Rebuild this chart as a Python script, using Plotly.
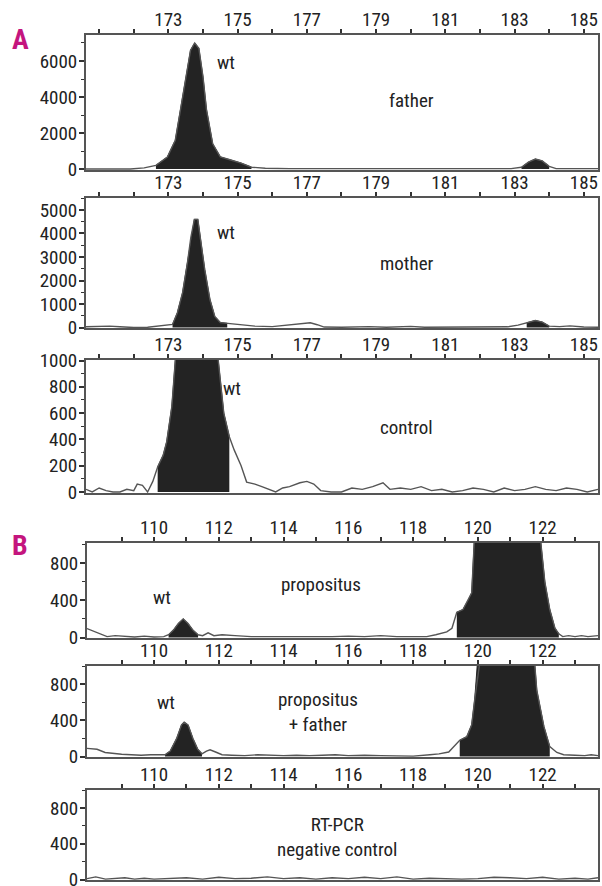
import plotly.graph_objects as go

W, H = 602, 886
FONT = "Liberation Sans Narrow, Arial Narrow, Roboto Condensed, Roboto, sans-serif"

# ---------------- data ----------------
a_ticks = list(range(171, 186))
a_ticklabels = [str(v) if (v % 2 == 1 and v >= 173) else "" for v in a_ticks]
b_ticks = list(range(109, 124))
b_ticklabels = [str(v) if v % 2 == 0 else "" for v in b_ticks]

# father
a1_x = [170.62, 171.9, 172.3, 172.64, 172.97, 173.2, 173.35, 173.5, 173.64, 173.76, 173.88, 174.0, 174.1, 174.28,
        174.5, 174.8, 175.1, 175.4, 175.8, 176.5, 178.0, 179.0, 180.0, 181.0, 182.0, 182.9, 183.2, 183.4, 183.6,
        183.8, 184.0, 184.2, 184.5, 185.41]
a1_y = [0, 0, 60, 200, 670, 1600, 3300, 5100, 6600, 7000, 6700, 5100, 3300, 1400,
        670, 500, 330, 100, 40, 20, 20, 20, 20, 20, 20, 20, 100, 380, 550,
        450, 150, 20, 20, 20]
a1_fill = [(172.6, 175.45), (183.1, 184.1)]

# mother
a2_x = [170.62, 171.0, 171.3, 171.6, 172.0, 172.4, 172.7, 173.0, 173.12, 173.26, 173.41, 173.55, 173.65, 173.75,
        173.85, 173.93, 174.05, 174.2, 174.34, 174.5, 174.7, 175.0, 175.5, 176.0, 176.4, 176.8, 177.1, 177.3,
        177.5, 178.0, 178.8, 179.3, 180.0, 180.4, 181.0, 182.0, 182.8, 183.1, 183.35, 183.6, 183.8, 184.0,
        184.3, 184.6, 185.0, 185.41]
a2_y = [30, 40, 60, 30, 0, 10, 60, 80, 130, 630, 1480, 2750, 3850, 4600,
        4600, 3730, 2460, 1190, 470, 210, 180, 120, 60, 40, 100, 180, 200, 120,
        20, 10, 40, 10, 50, 10, 20, 20, 30, 100, 200, 300, 230, 60,
        40, 70, 20, 10]
a2_fill = [(173.1, 174.72), (183.3, 184.05)]

# control
a3_x = [170.62, 170.8, 171.0, 171.2, 171.4, 171.6, 171.8, 172.0, 172.1, 172.25, 172.4, 172.55, 172.69, 172.85,
        172.95, 173.1, 173.2, 173.35, 173.55, 173.76, 174.0, 174.2, 174.44, 174.6, 174.76, 174.9, 175.1, 175.26,
        175.5, 175.7, 175.9, 176.1, 176.3, 176.5, 176.8, 177.0, 177.2, 177.4, 177.7, 178.0, 178.3, 178.6,
        178.9, 179.2, 179.4, 179.7, 180.0, 180.3, 180.6, 180.9, 181.2, 181.5, 181.8, 182.1, 182.4, 182.7,
        183.0, 183.3, 183.6, 183.9, 184.2, 184.5, 184.8, 185.1, 185.41]
a3_y = [20, 0, 30, 10, 0, 0, 20, 10, 60, 50, 0, 80, 190, 280,
        380, 650, 1000, 1900, 3500, 4200, 3300, 1800, 1000, 600, 420, 320, 200, 75,
        60, 40, 20, 0, 30, 40, 70, 80, 60, 10, 0, 0, 30, 20,
        40, 70, 20, 30, 20, 40, 10, 20, 0, 10, 30, 20, 0, 30,
        10, 20, 40, 20, 10, 30, 20, 0, 20]
a3_fill = [(172.68, 174.77)]

# propositus
b1_x = [107.93, 108.24, 108.55, 108.8, 109.1, 109.4, 109.7, 110.0, 110.3, 110.45, 110.6, 110.75, 110.9, 111.05,
        111.2, 111.36, 111.5, 111.67, 111.85, 112.1, 112.5, 113.0, 113.5, 114.0, 114.5, 115.0, 115.5, 116.0,
        116.5, 117.0, 117.5, 118.0, 118.42, 118.7, 119.04, 119.2, 119.35, 119.54, 119.7, 119.81, 119.9, 120.2,
        120.6, 121.0, 121.4, 121.8, 121.94, 122.07, 122.22, 122.38, 122.5, 122.62, 122.8, 123.0, 123.2, 123.4,
        123.71]
b1_y = [96, 53, 10, 20, 10, 5, 15, 5, 10, 30, 80, 150, 200, 150,
        80, 30, 20, 50, 20, 30, 20, 10, 10, 10, 5, 10, 10, 15,
        10, 20, 10, 10, 10, 30, 60, 100, 270, 300, 400, 480, 1100, 2500,
        3000, 3100, 2800, 1500, 1000, 590, 300, 100, 40, 10, 20, 10, 20, 10,
        20]
b1_fill = [(110.43, 111.4), (119.34, 122.52)]

# propositus + father
b2_x = [107.93, 108.24, 108.49, 108.7, 109.0, 109.3, 109.6, 109.9, 110.15, 110.34, 110.5, 110.7, 110.85, 110.93,
        111.05, 111.2, 111.35, 111.48, 111.62, 111.73, 111.9, 112.1, 112.4, 112.8, 113.2, 113.6, 114.0, 114.4,
        114.8, 115.2, 115.6, 116.0, 116.5, 117.0, 117.5, 118.0, 118.52, 118.8, 119.1, 119.3, 119.44, 119.66,
        119.81, 119.9, 120.0, 120.3, 120.8, 121.2, 121.5, 121.76, 121.82, 122.04, 122.22, 122.44, 122.65, 123.0,
        123.3, 123.5, 123.71]
b2_y = [90, 80, 45, 35, 25, 20, 15, 20, 20, 20, 60, 200, 350, 380,
        350, 200, 80, 30, 60, 75, 50, 20, 15, 10, 20, 15, 10, 15,
        10, 15, 20, 10, 15, 10, 5, 5, 20, 30, 50, 120, 180, 220,
        350, 620, 1100, 2500, 3000, 2800, 1500, 1000, 730, 330, 110, 45, 20, 15,
        10, 20, 10]
b2_fill = [(110.33, 111.5), (119.43, 122.23)]

# RT-PCR negative control
b3_x = [107.93, 108.2, 108.5, 108.8, 109.1, 109.4, 109.7, 110.0, 110.5, 111.0, 111.5, 112.0, 112.5, 113.0,
        113.5, 114.0, 114.5, 115.0, 115.5, 116.0, 116.5, 117.0, 117.5, 118.0, 118.5, 119.0, 119.5, 120.0,
        120.5, 121.0, 121.5, 122.0, 122.5, 123.0, 123.4, 123.71]
b3_y = [10, 30, 5, 15, 20, 5, 15, 5, 10, 20, 5, 25, 10, 15,
        30, 10, 20, 5, 20, 10, 25, 10, 30, 5, 15, 10, 5, 10,
        25, 20, 10, 25, 5, 15, 5, 20]
b3_fill = []

panels = [
    (a1_x, a1_y, a1_fill, [-55, 7444], [0, 2000, 4000, 6000], 1000, 35, 170, 86, [170.62, 185.41], a_ticks, a_ticklabels),
    (a2_x, a2_y, a2_fill, [-20, 5508], [0, 1000, 2000, 3000, 4000, 5000], 500, 198, 328, 86, [170.62, 185.41], a_ticks, a_ticklabels),
    (a3_x, a3_y, a3_fill, [-8, 1004], [0, 200, 400, 600, 800, 1000], 100, 360, 493, 86, [170.62, 185.41], a_ticks, a_ticklabels),
    (b1_x, b1_y, b1_fill, [-5, 1013], [0, 400, 800], 200, 543, 638, 87, [107.93, 123.71], b_ticks, b_ticklabels),
    (b2_x, b2_y, b2_fill, [-5, 1000], [0, 400, 800], 200, 666, 757, 87, [107.93, 123.71], b_ticks, b_ticklabels),
    (b3_x, b3_y, b3_fill, [-5, 1000], [0, 400, 800], 200, 790, 880, 87, [107.93, 123.71], b_ticks, b_ticklabels),
]

labels = [
    [("wt", 174.66, 5940), ("father", 180.03, 3830)],
    [("wt", 174.66, 4025), ("mother", 179.88, 2710)],
    [("wt", 174.85, 790), ("control", 179.88, 487)],
    [("wt", 110.25, 427), ("propositus", 115.15, 565)],
    [("wt", 110.37, 592), ("propositus<br>+ father", 115.06, 493)],
    [("RT-PCR<br>negative control", 115.65, 478)],
]

# ---------------- figure ----------------
fig = go.Figure()
layout = dict(
    width=W, height=H, margin=dict(l=0, r=0, t=0, b=0, autoexpand=False),
    paper_bgcolor="white", plot_bgcolor="white", showlegend=False,
    font=dict(family=FONT, size=19, color="#222"),
)
annotations = []
AX = "#555"

for i, (xs, ys, fills, yr, yt, mdt, top, bot, left, xr, tv, tt) in enumerate(panels):
    assert len(xs) == len(ys), i
    n = "" if i == 0 else str(i + 1)
    xa, ya = "x" + n, "y" + n
    for lo, hi in fills:
        fx = [x for x in xs if lo <= x <= hi]
        fy = [y for x, y in zip(xs, ys) if lo <= x <= hi]
        fig.add_trace(go.Scatter(x=fx, y=fy, mode="lines", fill="tozeroy",
                                 fillcolor="#232323", line=dict(color="#232323", width=1),
                                 xaxis=xa, yaxis=ya, hoverinfo="skip"))
    fig.add_trace(go.Scatter(x=xs, y=ys, mode="lines", line=dict(color="#555", width=1.4),
                             xaxis=xa, yaxis=ya))
    layout["xaxis" + n] = dict(
        domain=[left / W, 598 / W], range=xr, anchor=ya, side="top", automargin=False,
        tickmode="array", tickvals=tv, ticktext=tt, ticks="outside", ticklen=4,
        tickwidth=1.5, tickcolor="#333", showline=True, linecolor=AX, linewidth=2,
        mirror=True, showgrid=False, zeroline=False, fixedrange=True,
        ticklabelstandoff=-5, ticklabeloverflow="allow",
        tickfont=dict(family=FONT, size=19, color="#222"),
    )
    layout["yaxis" + n] = dict(
        domain=[1 - bot / H, 1 - top / H], range=yr, anchor=xa, automargin=False,
        tickmode="array", tickvals=yt, ticks="outside", ticklen=5, tickwidth=1.5,
        tickcolor="#333", showline=True, linecolor=AX, linewidth=2, mirror=True,
        showgrid=False, zeroline=False, fixedrange=True,
        ticklabelstandoff=-2, ticklabeloverflow="allow",
        minor=dict(dtick=mdt, ticks="outside", ticklen=3, tickcolor="#333", tickwidth=1.2, showgrid=False),
        tickfont=dict(family=FONT, size=19, color="#222"),
    )
    for txt, x, y in labels[i]:
        annotations.append(dict(text=txt, x=x, y=y, xref=xa, yref=ya, showarrow=False,
                                font=dict(family=FONT, size=19, color="#222"), align="center"))

for letter, py in (("A", 40), ("B", 545)):
    annotations.append(dict(text="<b>" + letter + "</b>", x=20 / W, y=1 - py / H, xref="paper", yref="paper",
                            xanchor="center", yanchor="middle", showarrow=False,
                            font=dict(family=FONT, size=28, color="#c4157e")))
layout["annotations"] = annotations
fig.update_layout(**layout)
fig.write_html("out.html", config={"displayModeBar": False},
               post_script="document.body.style.margin='0';document.body.style.padding='0';"
                           "document.body.style.overflow='hidden';")
